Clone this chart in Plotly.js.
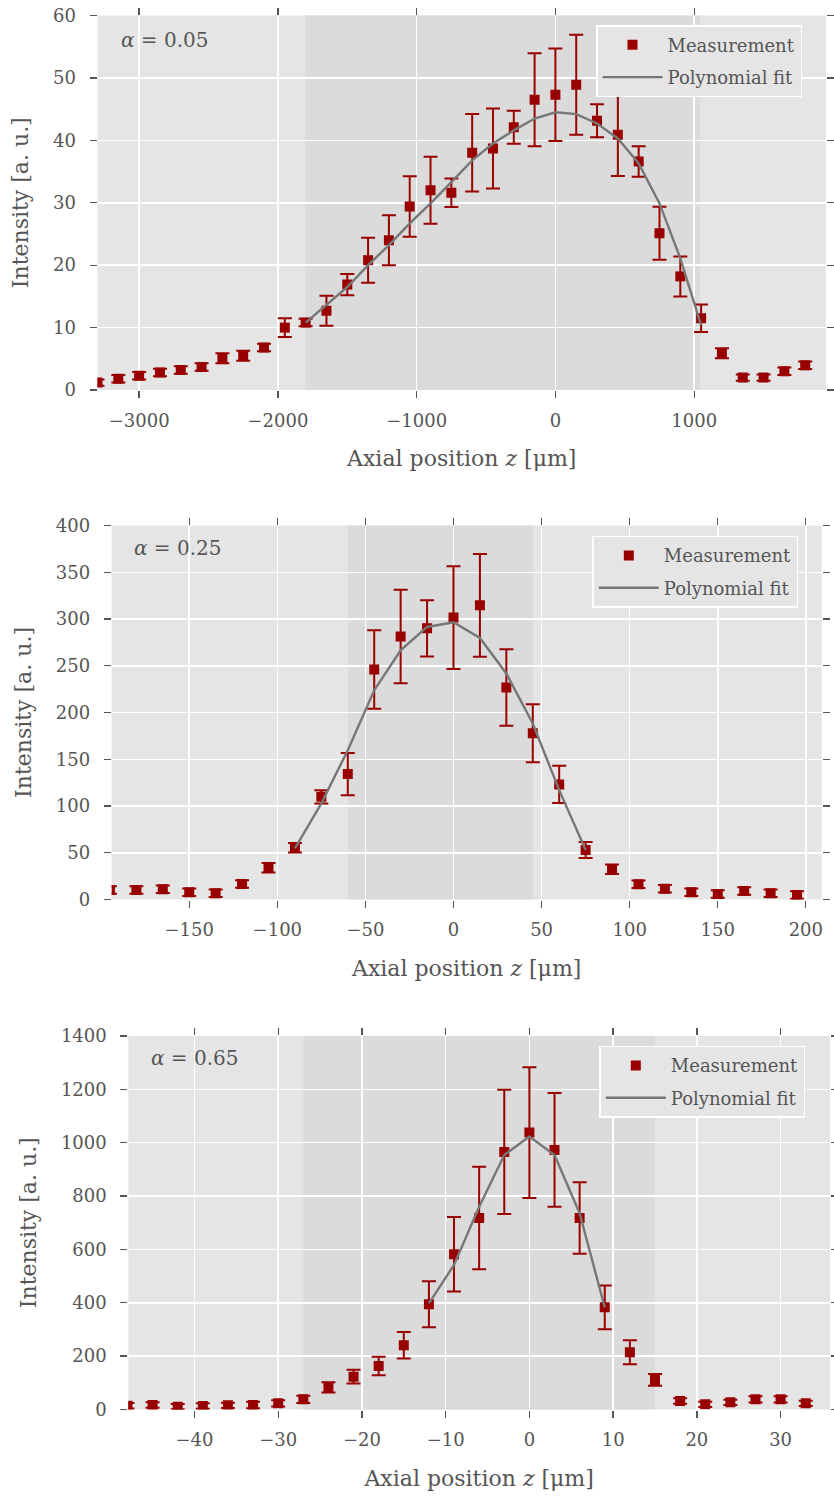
<!DOCTYPE html>
<html><head><meta charset="utf-8">
<script src="https://cdn.plot.ly/plotly-3.0.1.min.js"></script>
<style>html,body{margin:0;padding:0;background:#fff}#chart{width:834px;height:1497px}</style>
</head><body><div id="chart"></div>
<script>
// ---------- data ----------
const z1 = [-3300,-3150,-3000,-2850,-2700,-2550,-2400,-2250,-2100,-1950,-1800,-1650,-1500,-1350,-1200,-1050,-900,-750,-600,-450,-300,-150,0,150,300,450,600,750,900,1050,1200,1350,1500,1650,1800];
const I1 = [1.2,1.8,2.3,2.8,3.2,3.7,5.1,5.5,6.8,10.0,10.8,12.7,16.9,20.8,24.0,29.4,32.0,31.6,38.0,38.7,42.1,46.5,47.3,48.9,43.15,40.9,36.6,25.1,18.2,11.5,5.9,2.0,2.0,3.0,3.95];
const e1 = [0.5,0.6,0.6,0.6,0.6,0.6,0.8,0.8,0.6,1.5,0.6,2.4,1.7,3.6,4.0,4.85,5.35,2.3,6.2,6.4,2.65,7.45,7.4,8.0,2.65,6.6,2.45,4.25,3.2,2.2,0.8,0.5,0.5,0.6,0.6];
const fitZ1 = [-1800,-1650,-1500,-1350,-1200,-1050,-900,-750,-600,-450,-300,-150,0,150,300,450,600,750,900,1050];
const fitI1 = [10.8,13.6,16.5,20.0,23.2,26.7,29.9,33.3,36.8,39.5,41.6,43.5,44.5,44.2,42.7,40.3,36.3,29.9,21.1,10.4];

const z2 = [-195,-180,-165,-150,-135,-120,-105,-90,-75,-60,-45,-30,-15,0,15,30,45,60,75,90,105,120,135,150,165,180,195];
const I2 = [10.1,10.1,10.9,7.7,6.6,16.6,34.0,55.4,109.8,134.1,245.9,281.2,290,301.5,314.6,226.7,177.9,123.1,52.9,32.3,16.2,11.5,7.7,5.9,9.1,6.6,4.8];
const e2 = [4,4,4,4,4,4,5,5,7,22.5,42,50,30,55,55,41,31,20,8.5,5,4,4,4,4,4,4,4];
const fitZ2 = [-90,-75,-60,-45,-30,-15,0,15,30,45,60,75];
const fitI2 = [54.7,102.8,159.7,223.8,266.6,291.5,296.5,279.7,241.7,188.2,117,52.9];

const z3 = [-48,-45,-42,-39,-36,-33,-30,-27,-24,-21,-18,-15,-12,-9,-6,-3,0,3,6,9,12,15,18,21,24,27,30,33];
const I3 = [14,17,10.6,13,15.6,17,23,38,83,123,163,240.7,394.5,582,718,965.5,1038,973,718,383,214.5,110.6,32,19.5,27,38,38,23];
const e3 = [10,10,10,10,10,12,12,14,19,26,35,50,86,140,192,233,245,213,134,82,45,22,10,10,10,12,12,10];
const fitZ3 = [-12,-9,-6,-3,0,3,6,9];
const fitI3 = [398,542,760,954,1023,954,736,383];

const alphaLabels = ['0.05','0.25','0.65'];
const fitRegions = [[-1800,1045],[-60,45],[-27,15]];

// ---------- layout constants ----------
const W = 834, H = 1497;
const FONT = 'DejaVu Serif';
const TXT = '#555555';
const RED = '#990000';
const panels = [
  {px:[97.5,826], py:[15.5,390], xr:[-3300,1950], yr:[0,60], dx:1000, dy:10, leg:[596,25], ann:[119,40]},
  {px:[111.7,821.7], py:[525.5,899.5], xr:[-194,209], yr:[0,400], dx:50, dy:50, leg:[592.3,535.7], ann:[131.7,548]},
  {px:[128.3,830], py:[1036,1409.5], xr:[-47.9,35.9], yr:[0,1400], dx:10, dy:200, leg:[599.3,1045.7], ann:[149,1058]}
];
const series = [[z1,I1,e1,fitZ1,fitI1],[z2,I2,e2,fitZ2,fitI2],[z3,I3,e3,fitZ3,fitI3]];

const axBase = {
  showgrid:true, gridcolor:'#ffffff', gridwidth:1.5, zeroline:false, showline:false,
  ticks:'outside', ticklen:7, tickwidth:1.3, tickcolor:'#555555', mirror:'ticks',
  tickfont:{family:FONT, size:18, color:TXT}, automargin:false
};

const data = [];
const layout = {
  width:W, height:H, margin:{l:0,r:0,t:0,b:0},
  paper_bgcolor:'#ffffff', plot_bgcolor:'#e5e5e5',
  font:{family:FONT, color:TXT, size:18},
  shapes:[], annotations:[], showlegend:true
};

panels.forEach((p,i)=>{
  const n = i===0 ? '' : String(i+1);
  const xa = 'xaxis'+n, ya = 'yaxis'+n, xk = 'x'+n, yk = 'y'+n, lg = 'legend'+n;
  const [zz,II,ee,fz,fi] = series[i];
  data.push({
    x:zz, y:II, xaxis:xk, yaxis:yk, type:'scatter', mode:'markers', name:'Measurement',
    marker:{symbol:'square', size:10, color:RED},
    error_y:{type:'data', array:ee, visible:true, color:RED, thickness:2, width:7},
    legend:lg, legendgroup:'m'+i
  });
  data.push({
    x:fz, y:fi, xaxis:xk, yaxis:yk, type:'scatter', mode:'lines', name:'Polynomial fit',
    line:{color:'#777777', width:2.4}, legend:lg, legendgroup:'f'+i
  });
  layout[xa] = Object.assign({}, axBase, {
    domain:[p.px[0]/W, p.px[1]/W], anchor:yk, range:p.xr, dtick:p.dx, tick0:0, ticklabelstandoff:7,
    title:{text:'Axial position <i>z</i> [μm]', font:{family:FONT, size:22, color:TXT}}
  });
  layout[ya] = Object.assign({}, axBase, {
    domain:[(H-p.py[1])/H, (H-p.py[0])/H], anchor:xk, range:p.yr, dtick:p.dy, tick0:0, ticklabelstandoff:10,
    title:{text:'Intensity [a. u.]', font:{family:FONT, size:22, color:TXT}, standoff:18}
  });
  layout[lg] = {
    x:p.leg[0]/W, y:(H-p.leg[1])/H, xref:'paper', yref:'paper', xanchor:'left', yanchor:'top',
    bgcolor:'#e5e5e5', bordercolor:'#ffffff', borderwidth:1.5,
    font:{family:FONT, size:18, color:TXT}, itemwidth:60, tracegroupgap:6,
    entrywidthmode:'pixels', entrywidth:205
  };
  layout.shapes.push({
    type:'rect', xref:xk, yref:yk+' domain', x0:fitRegions[i][0], x1:fitRegions[i][1], y0:0, y1:1,
    fillcolor:'#dbdbdb', line:{width:0}, layer:'below'
  });
  layout.annotations.push({
    xref:'paper', yref:'paper', x:p.ann[0]/W, y:(H-p.ann[1])/H, xanchor:'left', yanchor:'middle',
    text:'<i>α</i> = '+alphaLabels[i], showarrow:false, font:{family:FONT, size:20, color:TXT}
  });
});

Plotly.newPlot('chart', data, layout, {staticPlot:true});
</script></body></html>
